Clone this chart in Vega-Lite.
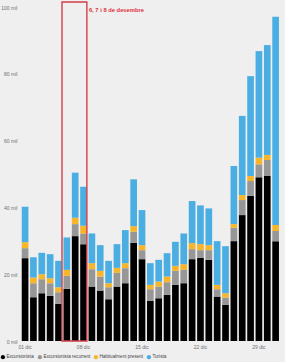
{
  "$schema": "https://vega.github.io/schema/vega-lite/v6.json",
  "width": 258.9,
  "height": 339,
  "autosize": "none",
  "padding": {"left": 20.9, "top": 2, "right": 5.2, "bottom": 21},
  "background": "#efefef",
  "config": {
    "view": {"stroke": null},
    "font": "Liberation Sans",
    "axis": {"grid": false, "domain": false, "ticks": false, "labelColor": "#6e6e6e", "labelFontSize": 5, "title": null}
  },
  "datasets": {
    "dies": [
      {"d": "01 dic", "Excursionista": 24800, "Excursionista recurrent": 3000, "Habitualment present": 1800, "Turista": 10600},
      {"d": "02 dic", "Excursionista": 13100, "Excursionista recurrent": 4200, "Habitualment present": 1700, "Turista": 6100},
      {"d": "03 dic", "Excursionista": 14300, "Excursionista recurrent": 4200, "Habitualment present": 1500, "Turista": 6400},
      {"d": "04 dic", "Excursionista": 13500, "Excursionista recurrent": 3800, "Habitualment present": 1500, "Turista": 7200},
      {"d": "05 dic", "Excursionista": 11100, "Excursionista recurrent": 3500, "Habitualment present": 1500, "Turista": 7900},
      {"d": "06 dic", "Excursionista": 15600, "Excursionista recurrent": 3900, "Habitualment present": 1800, "Turista": 9700},
      {"d": "07 dic", "Excursionista": 31400, "Excursionista recurrent": 3600, "Habitualment present": 1900, "Turista": 13500},
      {"d": "08 dic", "Excursionista": 29000, "Excursionista recurrent": 3200, "Habitualment present": 2300, "Turista": 11700},
      {"d": "09 dic", "Excursionista": 16300, "Excursionista recurrent": 5200, "Habitualment present": 1800, "Turista": 8900},
      {"d": "10 dic", "Excursionista": 15100, "Excursionista recurrent": 4200, "Habitualment present": 1700, "Turista": 7700},
      {"d": "11 dic", "Excursionista": 12500, "Excursionista recurrent": 3600, "Habitualment present": 1200, "Turista": 6700},
      {"d": "12 dic", "Excursionista": 16300, "Excursionista recurrent": 4100, "Habitualment present": 1500, "Turista": 7100},
      {"d": "13 dic", "Excursionista": 17300, "Excursionista recurrent": 4500, "Habitualment present": 1500, "Turista": 9900},
      {"d": "14 dic", "Excursionista": 29400, "Excursionista recurrent": 3300, "Habitualment present": 1700, "Turista": 14000},
      {"d": "15 dic", "Excursionista": 24500, "Excursionista recurrent": 2700, "Habitualment present": 1500, "Turista": 10500},
      {"d": "16 dic", "Excursionista": 12000, "Excursionista recurrent": 3500, "Habitualment present": 1300, "Turista": 6500},
      {"d": "17 dic", "Excursionista": 12800, "Excursionista recurrent": 3500, "Habitualment present": 1500, "Turista": 6500},
      {"d": "18 dic", "Excursionista": 13800, "Excursionista recurrent": 3800, "Habitualment present": 1700, "Turista": 7000},
      {"d": "19 dic", "Excursionista": 16800, "Excursionista recurrent": 4200, "Habitualment present": 1500, "Turista": 7200},
      {"d": "20 dic", "Excursionista": 17300, "Excursionista recurrent": 4000, "Habitualment present": 1700, "Turista": 9200},
      {"d": "21 dic", "Excursionista": 24500, "Excursionista recurrent": 3000, "Habitualment present": 1800, "Turista": 12600},
      {"d": "22 dic", "Excursionista": 24900, "Excursionista recurrent": 2300, "Habitualment present": 1800, "Turista": 11600},
      {"d": "23 dic", "Excursionista": 24300, "Excursionista recurrent": 2900, "Habitualment present": 1500, "Turista": 11000},
      {"d": "24 dic", "Excursionista": 13300, "Excursionista recurrent": 2200, "Habitualment present": 1300, "Turista": 13100},
      {"d": "25 dic", "Excursionista": 10800, "Excursionista recurrent": 2200, "Habitualment present": 1300, "Turista": 14100},
      {"d": "26 dic", "Excursionista": 29900, "Excursionista recurrent": 4000, "Habitualment present": 1100, "Turista": 17400},
      {"d": "27 dic", "Excursionista": 37700, "Excursionista recurrent": 4500, "Habitualment present": 1500, "Turista": 23700},
      {"d": "28 dic", "Excursionista": 43500, "Excursionista recurrent": 4400, "Habitualment present": 1500, "Turista": 29900},
      {"d": "29 dic", "Excursionista": 49000, "Excursionista recurrent": 3900, "Habitualment present": 2000, "Turista": 31900},
      {"d": "30 dic", "Excursionista": 49400, "Excursionista recurrent": 4800, "Habitualment present": 1500, "Turista": 32900},
      {"d": "31 dic", "Excursionista": 29900, "Excursionista recurrent": 3000, "Habitualment present": 1800, "Turista": 62400}
    ],
    "pont": [{"a": "06 dic", "b": "08 dic", "text": "6, 7 i 8 de desembre", "top": 101500, "base": 0, "ty": 99100}]
  },
  "layer": [
    {
      "data": {"name": "dies"},
      "transform": [
        {"fold": ["Excursionista", "Excursionista recurrent", "Habitualment present", "Turista"], "as": ["serie", "valor"]}
      ],
      "mark": {"type": "bar"},
      "encoding": {
        "x": {
          "field": "d", "type": "ordinal", "sort": null,
          "scale": {"paddingInner": 0.2, "paddingOuter": 0.1},
          "axis": {"values": ["01 dic", "08 dic", "15 dic", "22 dic", "29 dic"], "labelAngle": 0, "labelPadding": 3}
        },
        "y": {
          "field": "valor", "type": "quantitative", "stack": "zero",
          "scale": {"domain": [0, 101500], "nice": false},
          "axis": {"values": [0, 20000, 40000, 60000, 80000, 100000], "labelExpr": "datum.value / 1000 + ' mil'", "labelPadding": 4}
        },
        "color": {
          "field": "serie", "type": "nominal",
          "scale": {"domain": ["Excursionista", "Excursionista recurrent", "Habitualment present", "Turista"], "range": ["#000000", "#979797", "#f7b52c", "#4aaee2"]},
          "legend": {
            "title": null, "orient": "none", "direction": "horizontal", "legendX": -20.5, "legendY": 352.5,
            "symbolType": "circle", "symbolSize": 18, "symbolStrokeWidth": 0,
            "labelFontSize": 4.6, "labelColor": "#444444", "labelOffset": 1, "columnPadding": 3
          }
        },
        "order": {"field": "serie", "sort": "ascending"}
      }
    },
    {
      "data": {"name": "pont"},
      "mark": {"type": "rect", "fill": null, "stroke": "#d43f48", "strokeWidth": 1.4, "xOffset": -1.5},
      "encoding": {
        "x": {"field": "a", "type": "ordinal", "bandPosition": 0},
        "x2": {"field": "b", "bandPosition": 1},
        "y": {"field": "top", "type": "quantitative"},
        "y2": {"field": "base"}
      }
    },
    {
      "data": {"name": "pont"},
      "mark": {"type": "text", "align": "left", "baseline": "middle", "dx": 2, "color": "#e0333d", "fontSize": 5.8, "fontWeight": "bold"},
      "encoding": {
        "x": {"field": "b", "type": "ordinal", "bandPosition": 1},
        "y": {"field": "ty", "type": "quantitative"},
        "text": {"field": "text"}
      }
    }
  ]
}
